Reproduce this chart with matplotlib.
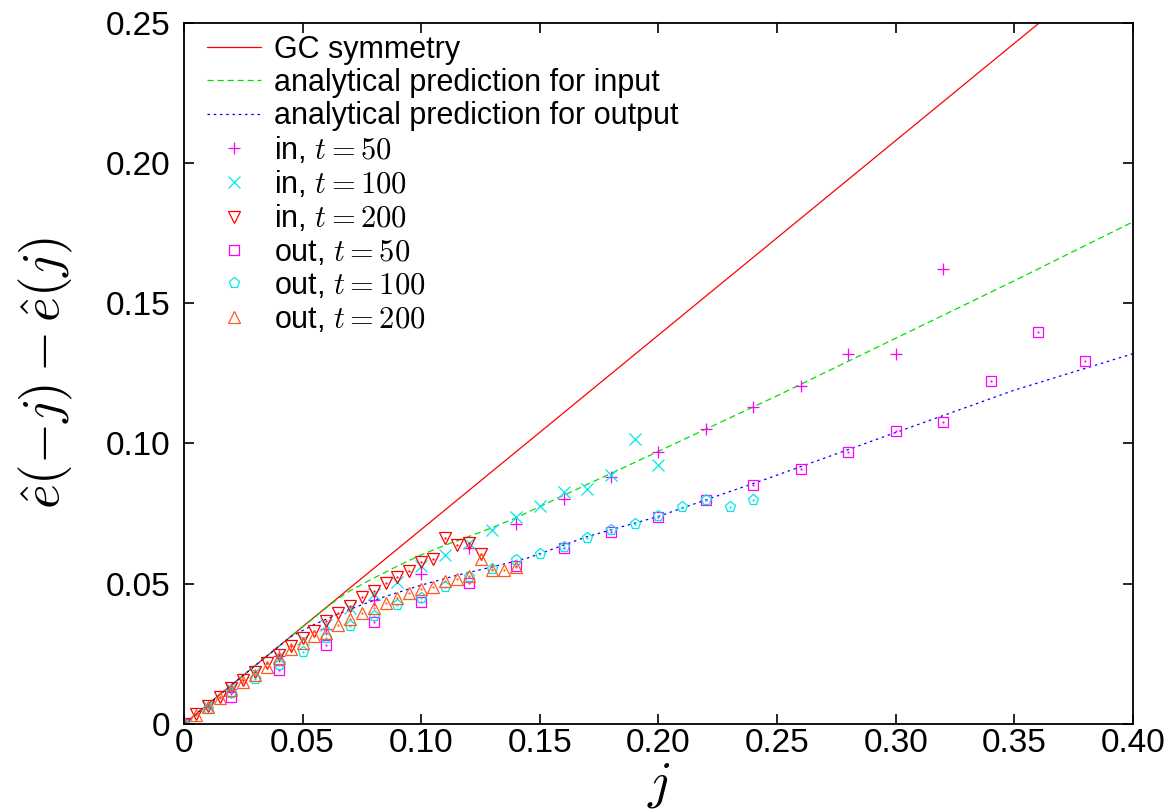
import matplotlib
matplotlib.use('Agg')
import matplotlib.pyplot as plt

plt.rcParams['font.family'] = ['Liberation Sans', 'DejaVu Sans']
plt.rcParams['mathtext.fontset'] = 'cm'

# analytical curves
gc_j = [0.0, 0.40]
gc_e = [0.0, 0.2773]

inp_j = [0.0, 0.03, 0.06, 0.065, 0.07, 0.08, 0.09, 0.10, 0.11, 0.12, 0.13, 0.14,
         0.15, 0.16, 0.18, 0.20, 0.25, 0.30, 0.35, 0.40]
inp_e = [0.0, 0.0208, 0.0414, 0.0447, 0.0475, 0.0520, 0.0563, 0.0603, 0.0637, 0.0668,
         0.0700, 0.0735, 0.0775, 0.0815, 0.0893, 0.0972, 0.1170, 0.1375, 0.1580, 0.1790]

out_j = [0.0, 0.03, 0.045, 0.055, 0.065, 0.075, 0.085, 0.10, 0.115, 0.13, 0.145,
         0.17, 0.20, 0.22, 0.245, 0.30, 0.35, 0.40]
out_e = [0.0, 0.0208, 0.0311, 0.0355, 0.0392, 0.0425, 0.0455, 0.0495, 0.0530, 0.0560,
         0.0592, 0.0668, 0.0740, 0.0799, 0.0872, 0.1039, 0.1190, 0.1320]

# simulation points
in50_j = [0.0, 0.02, 0.04, 0.06, 0.08, 0.10, 0.12, 0.14, 0.16, 0.18, 0.20, 0.22,
          0.24, 0.26, 0.28, 0.30, 0.32]
in50_e = [0.0, 0.0125, 0.0243, 0.0338, 0.0442, 0.0535, 0.0628, 0.0713, 0.0801, 0.0880,
          0.0969, 0.1050, 0.1129, 0.1205, 0.1319, 0.1319, 0.1621]

in100_j = [0.0, 0.01, 0.02, 0.03, 0.04, 0.05, 0.06, 0.07, 0.08, 0.09, 0.10, 0.11,
           0.12, 0.13, 0.14, 0.15, 0.16, 0.17, 0.18, 0.19, 0.20]
in100_e = [0.0, 0.0065, 0.0127, 0.0186, 0.0244, 0.0303, 0.0352, 0.0414, 0.0463, 0.0507,
           0.0562, 0.0602, 0.0644, 0.0690, 0.0737, 0.0776, 0.0826, 0.0837, 0.0886,
           0.1015, 0.0923]

in200_j = [0.0, 0.005, 0.01, 0.015, 0.02, 0.025, 0.03, 0.035, 0.04, 0.045, 0.05,
           0.055, 0.06, 0.065, 0.07, 0.075, 0.08, 0.085, 0.09, 0.095, 0.10, 0.105,
           0.11, 0.115, 0.12, 0.125]
in200_e = [0.0, 0.0036, 0.0065, 0.0095, 0.0127, 0.0157, 0.0186, 0.0216, 0.0246, 0.0279,
           0.0305, 0.0333, 0.0367, 0.0397, 0.0421, 0.0452, 0.0474, 0.0502, 0.0525,
           0.0545, 0.0579, 0.0588, 0.0664, 0.0637, 0.0644, 0.0606]

out50_j = [0.0, 0.02, 0.04, 0.06, 0.08, 0.10, 0.12, 0.14, 0.16, 0.18, 0.20, 0.22,
           0.24, 0.26, 0.28, 0.30, 0.32, 0.34, 0.36, 0.38]
out50_e = [0.0, 0.0097, 0.0193, 0.0282, 0.0363, 0.0436, 0.0501, 0.0563, 0.0626, 0.0683,
           0.0739, 0.0797, 0.0852, 0.0908, 0.0971, 0.1046, 0.1078, 0.1223, 0.1399, 0.1295]

out100_j = [0.0, 0.01, 0.02, 0.03, 0.04, 0.05, 0.06, 0.07, 0.08, 0.09, 0.10, 0.11,
            0.12, 0.13, 0.14, 0.15, 0.16, 0.17, 0.18, 0.19, 0.20, 0.21, 0.22, 0.23, 0.24]
out100_e = [0.0, 0.0052, 0.0109, 0.0159, 0.0210, 0.0258, 0.0305, 0.0349, 0.0385, 0.0424,
            0.0448, 0.0489, 0.0525, 0.0553, 0.0585, 0.0606, 0.0630, 0.0664, 0.0693,
            0.0714, 0.0741, 0.0775, 0.0799, 0.0773, 0.0799]

out200_j = [0.0, 0.005, 0.01, 0.015, 0.02, 0.025, 0.03, 0.035, 0.04, 0.045, 0.05,
            0.055, 0.06, 0.065, 0.07, 0.075, 0.08, 0.085, 0.09, 0.095, 0.10, 0.105,
            0.11, 0.115, 0.12, 0.125, 0.13, 0.135, 0.14]
out200_e = [0.0, 0.0032, 0.0062, 0.0092, 0.0121, 0.0151, 0.0175, 0.0204, 0.0234, 0.0266,
            0.0288, 0.0314, 0.0323, 0.0353, 0.0373, 0.0395, 0.0412, 0.0432, 0.0448,
            0.0466, 0.0480, 0.0487, 0.0510, 0.0518, 0.0529, 0.0587, 0.0549, 0.0549, 0.0561]

x_ticks = [0, 0.05, 0.10, 0.15, 0.20, 0.25, 0.30, 0.35, 0.40]
x_labels = ['0', '0.05', '0.10', '0.15', '0.20', '0.25', '0.30', '0.35', '0.40']
y_ticks = [0, 0.05, 0.10, 0.15, 0.20, 0.25]
y_labels = ['0', '0.05', '0.10', '0.15', '0.20', '0.25']

fig = plt.figure(figsize=(11.74, 8.11), dpi=100)
ax = fig.add_axes([0.1567, 0.1073, 0.8083, 0.8647])

ax.plot(gc_j, gc_e, color='#ff0000', lw=0.9, label='GC symmetry')
ax.plot(inp_j, inp_e, color='#00e000', lw=0.9, dashes=(5, 3),
        label='analytical prediction for input')
ax.plot(out_j, out_e, color='#0000ff', lw=0.9, dashes=(2, 3),
        label='analytical prediction for output')

pts = [
    (in50_j, in50_e, '+', '#ff00ff', 9, r'in, $t=50$', False),
    (in100_j, in100_e, 'x', '#00e8e8', 8, r'in, $t=100$', False),
    (in200_j, in200_e, 'v', '#ff0000', 8.5, r'in, $t=200$', True),
    (out50_j, out50_e, 's', '#ff00ff', 7, r'out, $t=50$', True),
    (out100_j, out100_e, 'p', '#00e8e8', 8, r'out, $t=100$', True),
    (out200_j, out200_e, '^', '#ff5a1f', 8.5, r'out, $t=200$', True),
]
for xs, ys, m, c, ms, lab, dot in pts:
    ax.plot(xs, ys, ls='none', marker=m, ms=ms, mec=c, mfc='none', mew=0.9, label=lab)
    if dot:
        ax.plot(xs, ys, ls='none', marker='.', ms=1.2, color=c)

ax.set_xlim(0, 0.40)
ax.set_ylim(0, 0.25)
ax.set_xticks(x_ticks)
ax.set_xticklabels(x_labels)
ax.set_yticks(y_ticks)
ax.set_yticklabels(y_labels)
ax.tick_params(direction='in', length=7, width=1.2, top=True, right=True, labelsize=24)
ax.tick_params(axis='x', pad=3)
ax.tick_params(axis='y', pad=10)
for s in ax.spines.values():
    s.set_linewidth(1.3)

ax.set_xlabel(r'$j$', fontsize=38)
ax.xaxis.set_label_coords(0.5, -0.052)
ax.set_ylabel(r'$\hat{e}(-j)-\hat{e}(j)$', fontsize=38)
ax.yaxis.set_label_coords(-0.115, 0.5)

handles, labels = ax.get_legend_handles_labels()
leg = ax.legend(handles, labels, loc='upper left', bbox_to_anchor=(0.024, 0.983),
                frameon=False, prop={'family': 'Liberation Sans', 'size': 22},
                handlelength=1.77, handletextpad=0.43, labelspacing=0.11,
                borderaxespad=0.0, borderpad=0.0)

fig.savefig('out.png', dpi=100)
